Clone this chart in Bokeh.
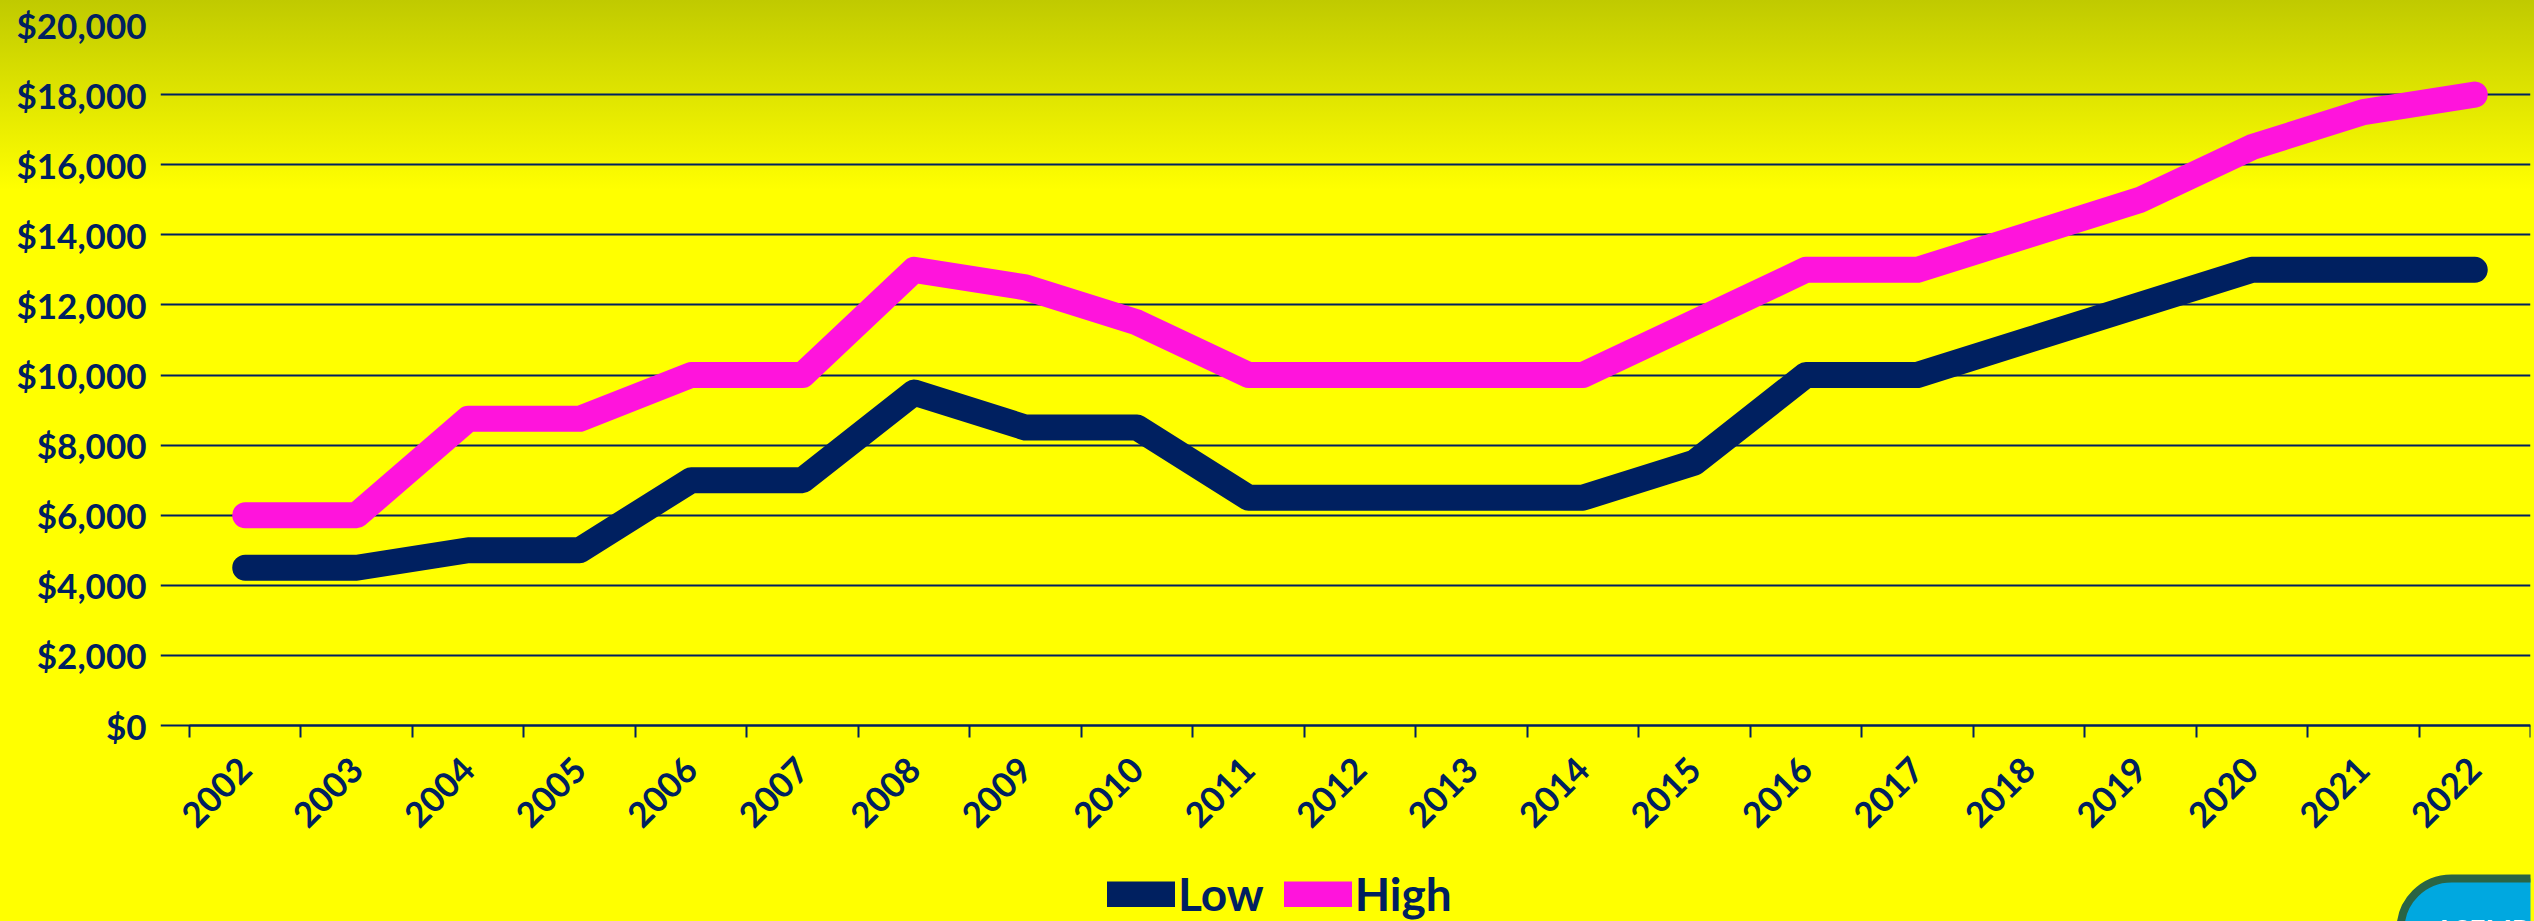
import math
import re
from bokeh.plotting import figure
from bokeh.models import (Range1d, FixedTicker, NumeralTickFormatter, Legend,
                          LegendItem, Label, LinearAxis)
from bokeh.embed import file_html
from bokeh.resources import INLINE

# ---- data ----
years = [str(y) for y in range(2002, 2023)]
low = [4500, 4500, 5000, 5000, 7000, 7000, 9500, 8500, 8500, 6500, 6500,
       6500, 6500, 7500, 10000, 10000, 11000, 12000, 13000, 13000, 13000]
high = [6000, 6000, 8750, 8750, 10000, 10000, 13000, 12500, 11500, 10000, 10000,
        10000, 10000, 11500, 13000, 13000, 14000, 15000, 16500, 17500, 18000]
y_ticks = [0, 2000, 4000, 6000, 8000, 10000, 12000, 14000, 16000, 18000, 20000]
series_names = ["Low", "High"]
logo_text = "ASEMPA"

# ---- layout / styles ----
NAVY = "#002060"
MAGENTA = "#ff14dc"
FONT = "Lato"
W, H = 2534, 921
TOP, BOTTOM_AXIS = 24, 725          # pixel rows of the top and zero gridlines
AX_LEFT, AX_RIGHT = 189, 2530       # pixel columns where the category axis starts/ends
FRAME_LEFT = 160                    # frame starts a bit earlier so the first label is not cut
y_max = 20000
units_per_px = y_max / (BOTTOM_AXIS - TOP)
y_min = -(H - BOTTOM_AXIS) * units_per_px   # frame reaches the canvas bottom
n = len(years)
px_per_cat = (AX_RIGHT - AX_LEFT) / n
x_start = -0.5 - (AX_LEFT - FRAME_LEFT) / px_per_cat

x = list(range(n))

p = figure(width=W, height=H, output_backend="svg", toolbar_location=None,
           x_range=Range1d(x_start, n - 0.5), y_range=Range1d(y_min, y_max),
           x_axis_location=None,
           min_border_left=FRAME_LEFT, min_border_right=W - AX_RIGHT,
           min_border_top=TOP, min_border_bottom=0)
p.background_fill_color = None
p.border_fill_color = None
p.outline_line_color = None
p.styles = {"background": "linear-gradient(to bottom, #c0ca00 0px, #ffff00 190px, #ffff00 100%)"}

r_low = p.line(x, low, line_width=26, line_color=NAVY, line_cap="round", line_join="round")
r_high = p.line(x, high, line_width=26, line_color=MAGENTA, line_cap="round", line_join="round")

# x axis pinned at y = 0
xa = LinearAxis(fixed_location=0, bounds=(-0.5, n - 0.5))
xa.ticker = FixedTicker(ticks=x, minor_ticks=[i - 0.5 for i in range(n + 1)])
xa.major_label_overrides = {i: y for i, y in zip(x, years)}
xa.major_label_orientation = math.pi / 4
xa.major_tick_out = 0
xa.major_tick_in = 0
xa.minor_tick_out = 12
xa.minor_tick_in = 0
xa.minor_tick_line_color = NAVY
xa.minor_tick_line_width = 2
xa.axis_line_color = NAVY
xa.axis_line_width = 2
xa.major_label_standoff = 26
xa.major_label_text_font = FONT
xa.major_label_text_font_style = "bold"
xa.major_label_text_font_size = "35px"
xa.major_label_text_color = NAVY
p.add_layout(xa, "below")

# y axis
ya = p.yaxis[0]
ya.ticker = FixedTicker(ticks=y_ticks)
ya.formatter = NumeralTickFormatter(format="$0,0")
ya.axis_line_color = None
ya.major_tick_line_color = None
ya.minor_tick_line_color = None
ya.major_label_standoff = 37 - (AX_LEFT - FRAME_LEFT)
ya.major_label_text_font = FONT
ya.major_label_text_font_style = "bold"
ya.major_label_text_font_size = "35px"
ya.major_label_text_color = NAVY

p.xgrid.visible = False
p.ygrid.ticker = FixedTicker(ticks=y_ticks)
p.ygrid.bounds = (-0.5, n - 0.5)
p.ygrid.grid_line_color = NAVY
p.ygrid.grid_line_width = 2

legend = Legend(items=[LegendItem(label=series_names[0], renderers=[r_low]),
                       LegendItem(label=series_names[1], renderers=[r_high])],
                orientation="horizontal", location=(1107 - FRAME_LEFT, 0))
legend.background_fill_alpha = 0
legend.border_line_color = None
legend.padding = 0
legend.margin = 0
legend.glyph_width = 68
legend.glyph_height = 26
legend.label_standoff = 3
legend.spacing = 20
legend.label_text_font = FONT
legend.label_text_font_style = "bold"
legend.label_text_font_size = "46px"
legend.label_text_color = NAVY
p.add_layout(legend)

logo = Label(x=2400 - FRAME_LEFT, y=H - 878, x_units="screen", y_units="screen",
             text=logo_text, text_color="white", text_font=FONT, text_font_style="bold",
             text_font_size="28px", text_baseline="top", text_align="left",
             background_fill_color="#00a8e0", border_line_color="#2a6444",
             border_line_width=8, border_radius=70, padding=34)
p.add_layout(logo)

html = file_html(p, INLINE, title="Low and High")
if "<body>" in html:
    html = html.replace("<body>", '<body style="margin:0;background:#ffff00;">', 1)
else:
    html = re.sub(r"<body([^>]*)>", r'<body\1 style="margin:0;background:#ffff00;">', html, count=1)
open("out.html", "w").write(html)
